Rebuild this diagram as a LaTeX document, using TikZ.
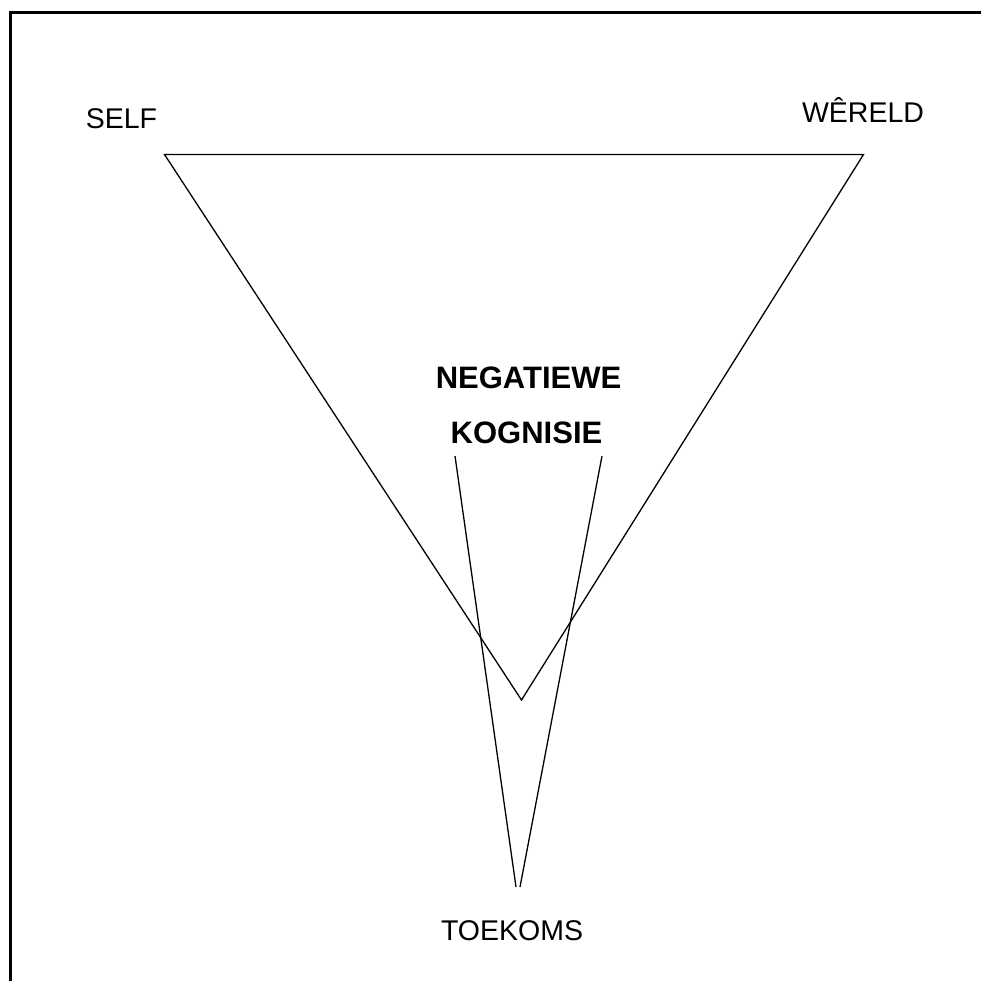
\documentclass[tikz,border=0pt]{standalone}
\usepackage{fontspec}
\setmainfont{Liberation Sans}
\begin{document}
\begin{tikzpicture}[x=1pt,y=-1pt,
  lbl/.style={anchor=base,inner sep=0pt,font=\fontsize{28.5}{30}\selectfont},
  blbl/.style={anchor=base,inner sep=0pt,font=\fontsize{31}{33}\selectfont\bfseries},
  thin line/.style={line width=1.3pt,line join=miter},
  frame line/.style={line width=2.2pt}]
\useasboundingbox (0,0) rectangle (981,981);
% frame (only left and top edges are visible)
\draw[frame line] (10.5,981) -- (10.5,12.5) -- (981,12.5);
% labels
\node[lbl] (self) at (121.5,129) {SELF};
\node[lbl] (wereld) at (863,123) {WÊRELD};
\node[lbl] (toekoms) at (512,940) {TOEKOMS};
\node[blbl] (neg) at (528.5,388) {NEGATIEWE};
\node[blbl] (kog) at (526.5,443) {KOGNISIE};
% triangle
\coordinate (tl) at (164.5,154.5);
\coordinate (tr) at (863.5,154.5);
\coordinate (tb) at (521.5,700);
\draw[thin line] (tl) -- (tr) -- (tb) -- cycle;
% narrow V from cognition to future
\coordinate (kl) at (455,456);
\coordinate (kr) at (602,456);
\coordinate (fl) at (516,887);
\coordinate (fr) at (520,887);
\draw[thin line] (kl) -- (fl);
\draw[thin line] (kr) -- (fr);
\end{tikzpicture}
\end{document}
